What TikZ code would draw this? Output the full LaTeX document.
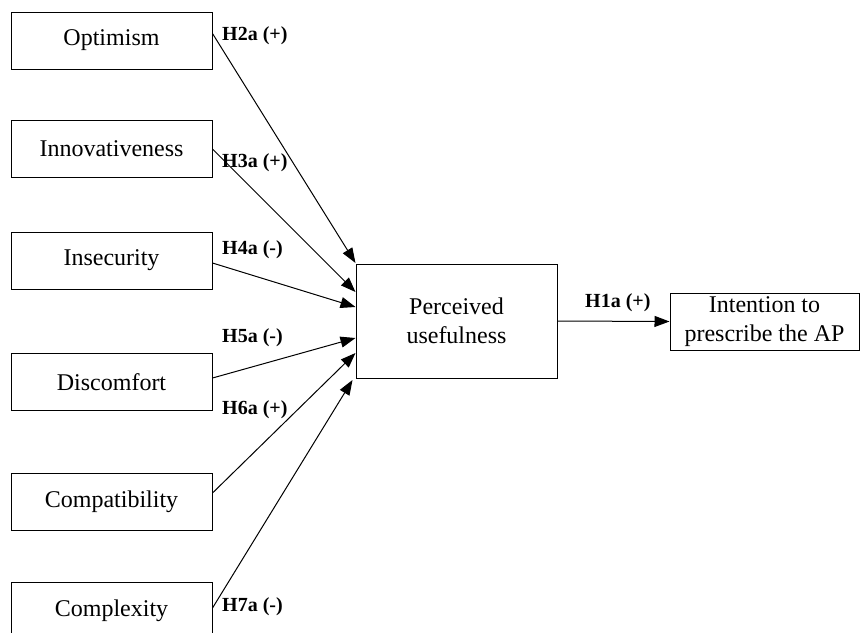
\documentclass[tikz,border=0pt]{standalone}
\usepackage{fontspec}
\setmainfont{Liberation Serif}
\usetikzlibrary{arrows.meta}
\begin{document}
\begin{tikzpicture}[x=1pt,y=-1pt,
  construct/.style={draw=black, line width=1pt, minimum width=201pt, minimum height=57pt,
    inner sep=0pt, align=center, font=\fontsize{24}{29}\selectfont},
  link/.style={draw=black, line width=1pt, -{Triangle[length=15pt,width=11pt]}},
  hyp/.style={font=\fontsize{20}{24}\selectfont\bfseries, anchor=west, inner sep=0pt}]
  \useasboundingbox (0,0) rectangle (861,632);
  \fill[white] (0,0) rectangle (861,632);

  % exogenous constructs
  \node[construct] (opt) at (111.5,40.5)  {Optimism};
  \node[construct] (inn) at (111.5,149)   {Innovativeness};
  \node[construct] (ins) at (111.5,260.5) {Insecurity};
  \node[construct] (dis) at (111.5,382)   {Discomfort};
  \node[construct] (com) at (111.5,501.5) {Compatibility};
  \node[construct] (cpx) at (111.5,610.5) {Complexity};

  % mediator and outcome
  \node[construct, minimum width=201pt, minimum height=114pt] (pu) at (456.5,321)
    {Perceived\\usefulness};
  \node[construct, minimum width=189pt, minimum height=57pt] (int) at (764.5,321.5)
    {Intention to\\prescribe the AP};

  % hypothesised paths
  \draw[link] ([yshift=7pt]opt.east) -- ([yshift=58pt]pu.west);
  \draw[link] (inn.east) -- ([yshift=29pt]pu.west);
  \draw[link] ([yshift=-2.5pt]ins.east) -- ([yshift=14pt]pu.west);
  \draw[link] ([yshift=4pt]dis.east) -- ([yshift=-17pt]pu.west);
  \draw[link] ([yshift=8.5pt]com.east) -- ([yshift=-32pt]pu.west);
  \draw[link] ([yshift=2.5pt]cpx.east) -- ([xshift=-3pt,yshift=-59pt]pu.west);
  \draw[link] (pu.east) -- (int.west);

  % path labels
  \node[hyp] (l2) at (222,36)  {H2a (+)};
  \node[hyp] (l3) at (222,163) {H3a (+)};
  \node[hyp] (l4) at (222,250) {H4a (-)};
  \node[hyp] (l5) at (222,338) {H5a (-)};
  \node[hyp] (l6) at (222,410) {H6a (+)};
  \node[hyp] (l7) at (222,607) {H7a (-)};
  \node[hyp] (l1) at (585,303) {H1a (+)};
\end{tikzpicture}
\end{document}
